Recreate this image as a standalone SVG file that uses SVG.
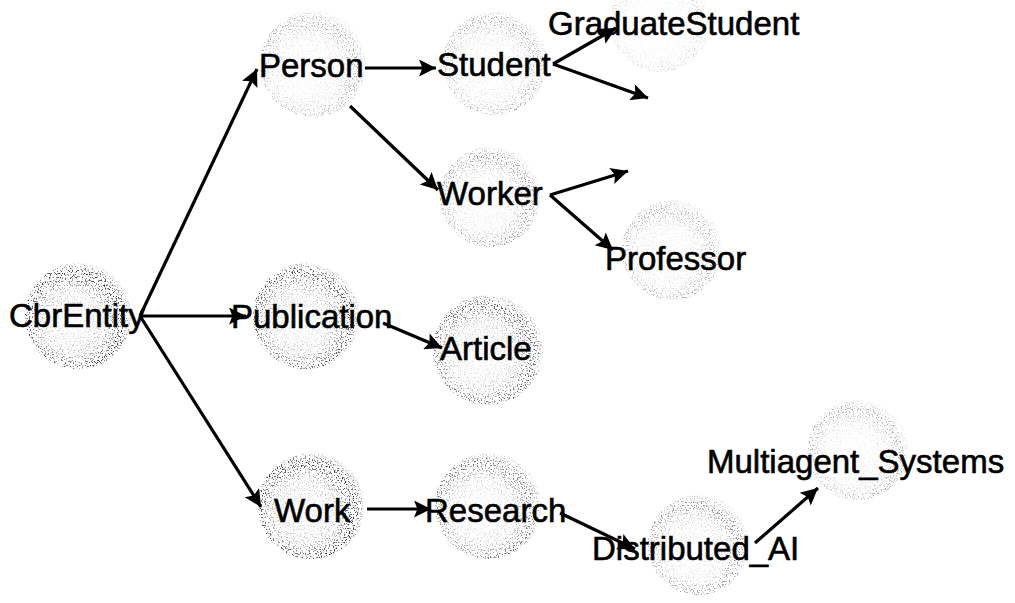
<svg xmlns="http://www.w3.org/2000/svg" width="1015" height="603" viewBox="0 0 1015 603">
  <style>
    .lbl { font-family: "Liberation Sans", Arial, sans-serif; font-size: 33px; fill: #000; stroke: #000; stroke-width: 0.6; }
    .halo { fill: url(#ring); filter: url(#grain); }
    .edge { stroke: #000; stroke-width: 3.2; fill: none; marker-end: url(#arrow); }
  </style>
  <defs>
    <!-- grey ring, mostly empty in the middle and denser towards the rim -->
    <radialGradient id="ring" cx="0.45" cy="0.55" r="0.55">
      <stop offset="0" stop-color="#333" stop-opacity="0.05"/>
      <stop offset="0.55" stop-color="#333" stop-opacity="0.3"/>
      <stop offset="0.85" stop-color="#222" stop-opacity="0.95"/>
      <stop offset="1" stop-color="#333" stop-opacity="0.3"/>
    </radialGradient>
    <!-- stipple: keep only scattered specks of the ring -->
    <filter id="grain" x="-10%" y="-10%" width="120%" height="120%">
      <feTurbulence type="fractalNoise" baseFrequency="0.75" numOctaves="1" seed="7" result="noise"/>
      <feColorMatrix in="noise" type="matrix" values="0 0 0 0 0  0 0 0 0 0  0 0 0 0 0  9 0 0 0 -4.9" result="mask"/>
      <feComposite in="SourceGraphic" in2="mask" operator="in"/>
    </filter>
    <marker id="arrow" viewBox="0 0 10 10" refX="10" refY="5" markerWidth="22" markerHeight="17" markerUnits="userSpaceOnUse" orient="auto">
      <path d="M0,0 L10,5 L0,10 L2,5 Z" fill="#000"/>
    </marker>
  </defs>

  <rect width="1015" height="603" fill="#fff"/>

  <g id="node-cbrentity">
    <circle class="halo" cx="78" cy="316" r="53" opacity="1"/>
    <text class="lbl" x="9" y="327">CbrEntity</text>
  </g>
  <g id="node-person">
    <circle class="halo" cx="313" cy="64" r="53" opacity="0.4"/>
    <text class="lbl" x="259" y="77">Person</text>
  </g>
  <g id="node-student">
    <circle class="halo" cx="495" cy="63" r="52" opacity="0.4"/>
    <text class="lbl" x="437" y="76">Student</text>
  </g>
  <g id="node-graduatestudent">
    <circle class="halo" cx="660" cy="22" r="50" opacity="0.2"/>
    <text class="lbl" x="548" y="35">GraduateStudent</text>
  </g>
  <g id="node-worker">
    <circle class="halo" cx="490" cy="197" r="50" opacity="0.5"/>
    <text class="lbl" x="437" y="205">Worker</text>
  </g>
  <g id="node-professor">
    <circle class="halo" cx="672" cy="250" r="50" opacity="0.4"/>
    <text class="lbl" x="605" y="270">Professor</text>
  </g>
  <g id="node-publication">
    <circle class="halo" cx="306" cy="316" r="53" opacity="0.9"/>
    <text class="lbl" x="231" y="328">Publication</text>
  </g>
  <g id="node-article">
    <circle class="halo" cx="488" cy="350" r="55" opacity="0.8"/>
    <text class="lbl" x="440" y="360">Article</text>
  </g>
  <g id="node-work">
    <circle class="halo" cx="311" cy="506" r="53" opacity="1"/>
    <text class="lbl" x="274" y="522">Work</text>
  </g>
  <g id="node-research">
    <circle class="halo" cx="488" cy="506" r="53" opacity="0.7"/>
    <text class="lbl" x="425" y="522">Research</text>
  </g>
  <g id="node-distributed-ai">
    <circle class="halo" cx="698" cy="545" r="50" opacity="0.55"/>
    <text class="lbl" x="592" y="560">Distributed_AI</text>
  </g>
  <g id="node-multiagent-systems">
    <circle class="halo" cx="858" cy="450" r="50" opacity="0.4"/>
    <text class="lbl" x="707" y="473">Multiagent_Systems</text>
  </g>

  <g id="connectors">
    <line class="edge" x1="140" y1="316" x2="257" y2="69"/>
    <line class="edge" x1="140" y1="316" x2="246" y2="316"/>
    <line class="edge" x1="140" y1="316" x2="261" y2="507"/>
    <line class="edge" x1="365" y1="68" x2="436" y2="68"/>
    <line class="edge" x1="350" y1="106" x2="438" y2="190"/>
    <line class="edge" x1="553" y1="64" x2="616" y2="28"/>
    <line class="edge" x1="553" y1="64" x2="648" y2="98"/>
    <line class="edge" x1="550" y1="195" x2="628" y2="171"/>
    <line class="edge" x1="550" y1="195" x2="613" y2="250"/>
    <line class="edge" x1="383" y1="323" x2="442" y2="348"/>
    <line class="edge" x1="367" y1="509" x2="431" y2="509"/>
    <line class="edge" x1="560" y1="513" x2="635" y2="549"/>
    <line class="edge" x1="755" y1="543" x2="818" y2="488"/>
  </g>
</svg>
